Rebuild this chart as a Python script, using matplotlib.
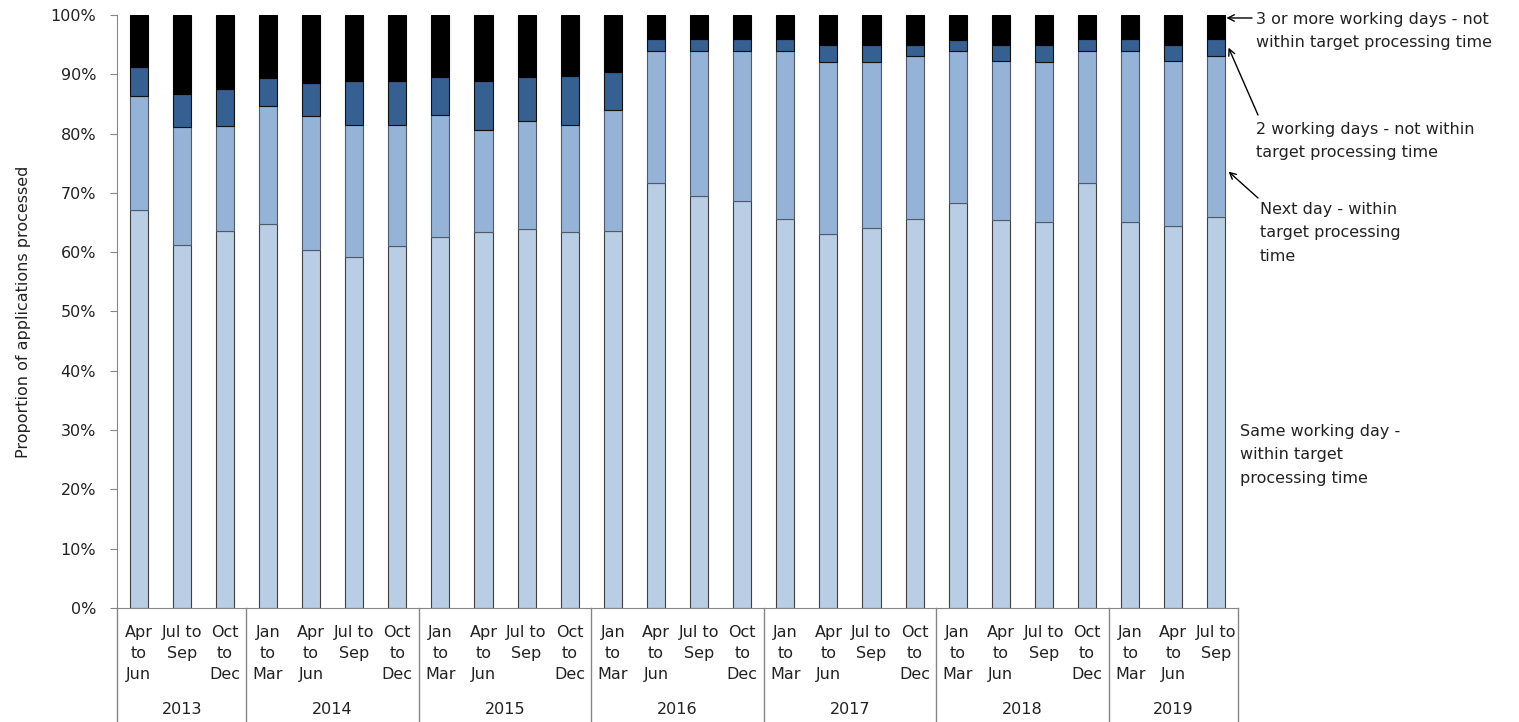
import matplotlib

matplotlib.use("Agg")
import matplotlib.pyplot as plt
import numpy as np
from matplotlib.ticker import PercentFormatter

years = ["2013", "2014", "2015", "2016", "2017", "2018", "2019"]
quarters_per_year = [3, 4, 4, 4, 4, 4, 3]
quarter_labels = (
    ["Apr\nto\nJun", "Jul to\nSep", "Oct\nto\nDec"]
    + ["Jan\nto\nMar", "Apr\nto\nJun", "Jul to\nSep", "Oct\nto\nDec"] * 5
    + ["Jan\nto\nMar", "Apr\nto\nJun", "Jul to\nSep"]
)

same_day = [67.2, 61.2, 63.5, 64.8, 60.3, 59.2, 61.0, 62.6, 63.4, 63.9, 63.4, 63.6, 71.7,
            69.5, 68.6, 65.6, 63.0, 64.0, 65.6, 68.3, 65.4, 65.1, 71.7, 65.1, 64.4, 66.0]
next_day = [19.1, 19.9, 17.7, 19.9, 22.6, 22.2, 20.4, 20.5, 17.2, 18.3, 18.1, 20.4, 22.3,
            24.5, 25.4, 28.4, 29.1, 28.1, 27.5, 25.6, 26.8, 27.0, 22.3, 28.9, 27.8, 27.1]
two_days = [4.9, 5.5, 6.4, 4.6, 5.6, 7.4, 7.4, 6.4, 8.2, 7.4, 8.2, 6.4, 2.0,
            2.0, 2.0, 2.0, 2.9, 2.9, 1.9, 1.9, 2.8, 2.9, 2.0, 2.0, 2.8, 2.9]
three_plus = [8.8, 13.4, 12.4, 10.7, 11.5, 11.2, 11.2, 10.5, 11.2, 10.4, 10.3, 9.6, 4.0,
              4.0, 4.0, 4.0, 5.0, 5.0, 5.0, 4.2, 5.0, 5.0, 4.0, 4.0, 5.0, 4.0]

series = [
    (same_day, "#B9CDE5", "#404040"),
    (next_day, "#95B3D7", "#505a6a"),
    (two_days, "#366092", "#111111"),
    (three_plus, "#000000", "#000000"),
]

plt.rcParams["font.family"] = "DejaVu Sans"
plt.rcParams["font.size"] = 11.5

W, H = 1519, 722
fig = plt.figure(figsize=(W / 100, H / 100), dpi=100)
ax = fig.add_axes([117 / W, (H - 608) / H, (1238 - 117) / W, (608 - 15) / H])

x = np.arange(len(same_day))
bottom = np.zeros(len(x))
for vals, color, edge in series:
    ax.bar(x, vals, width=0.42, bottom=bottom, color=color, edgecolor=edge, linewidth=0.8)
    bottom += np.asarray(vals)

ax.set_xlim(-0.5, len(x) - 0.5)
ax.set_ylim(0, 100)
ax.yaxis.set_major_formatter(PercentFormatter(decimals=0))
ax.set_yticks(np.arange(0, 101, 10))
ax.tick_params(axis="y", length=5, color="#868686", labelcolor="#222222", pad=10)
ax.set_xticks([])
for side in ("top", "right"):
    ax.spines[side].set_visible(False)
for side in ("left", "bottom"):
    ax.spines[side].set_color("#868686")
ax.set_ylabel("Proportion of applications processed", color="#222222", labelpad=14)

# category labels under the axis
trans = ax.get_xaxis_transform()
for xi, lab in zip(x, quarter_labels):
    ax.text(xi, -0.029, lab, transform=trans, ha="center", va="top",
            linespacing=1.5, color="#222222")

# year groups and separators
edges = np.concatenate([[0], np.cumsum(quarters_per_year)]) - 0.5
for ed in edges:
    ax.plot([ed, ed], [0, -0.19], transform=trans, color="#868686", lw=1, clip_on=False)
for yr, a, b in zip(years, edges[:-1], edges[1:]):
    ax.text((a + b) / 2, -0.172, yr, transform=trans, ha="center", va="center", color="#222222")

# labels on the right with arrows to the last bar
last = x[-1]
right_edge = last + 0.23
cum = np.cumsum([same_day[-1], next_day[-1], two_days[-1], three_plus[-1]])
arrow = dict(arrowstyle="->", color="black", lw=1, shrinkA=0, shrinkB=0)
ax.annotate("", xy=(right_edge, cum[3] - 0.5), xytext=(1252, H - 18),
            textcoords="figure pixels", arrowprops=arrow, annotation_clip=False)
ax.annotate("", xy=(right_edge + 0.05, cum[2] - 1.5), xytext=(1258, H - 115),
            textcoords="figure pixels", arrowprops=arrow, annotation_clip=False)
ax.annotate("", xy=(right_edge + 0.05, cum[1] - 19.5), xytext=(1258, H - 198),
            textcoords="figure pixels", arrowprops=arrow, annotation_clip=False)

notes = [
    (1256, 12, "3 or more working days - not\nwithin target processing time"),
    (1256, 122, "2 working days - not within\ntarget processing time"),
    (1260, 202, "Next day - within\ntarget processing\ntime"),
    (1240, 424, "Same working day -\nwithin target\nprocessing time"),
]
for px, py, txt in notes:
    fig.text(px / W, (H - py) / H, txt, ha="left", va="top", linespacing=1.7, color="#222222")

fig.savefig("out.png", dpi=100)
